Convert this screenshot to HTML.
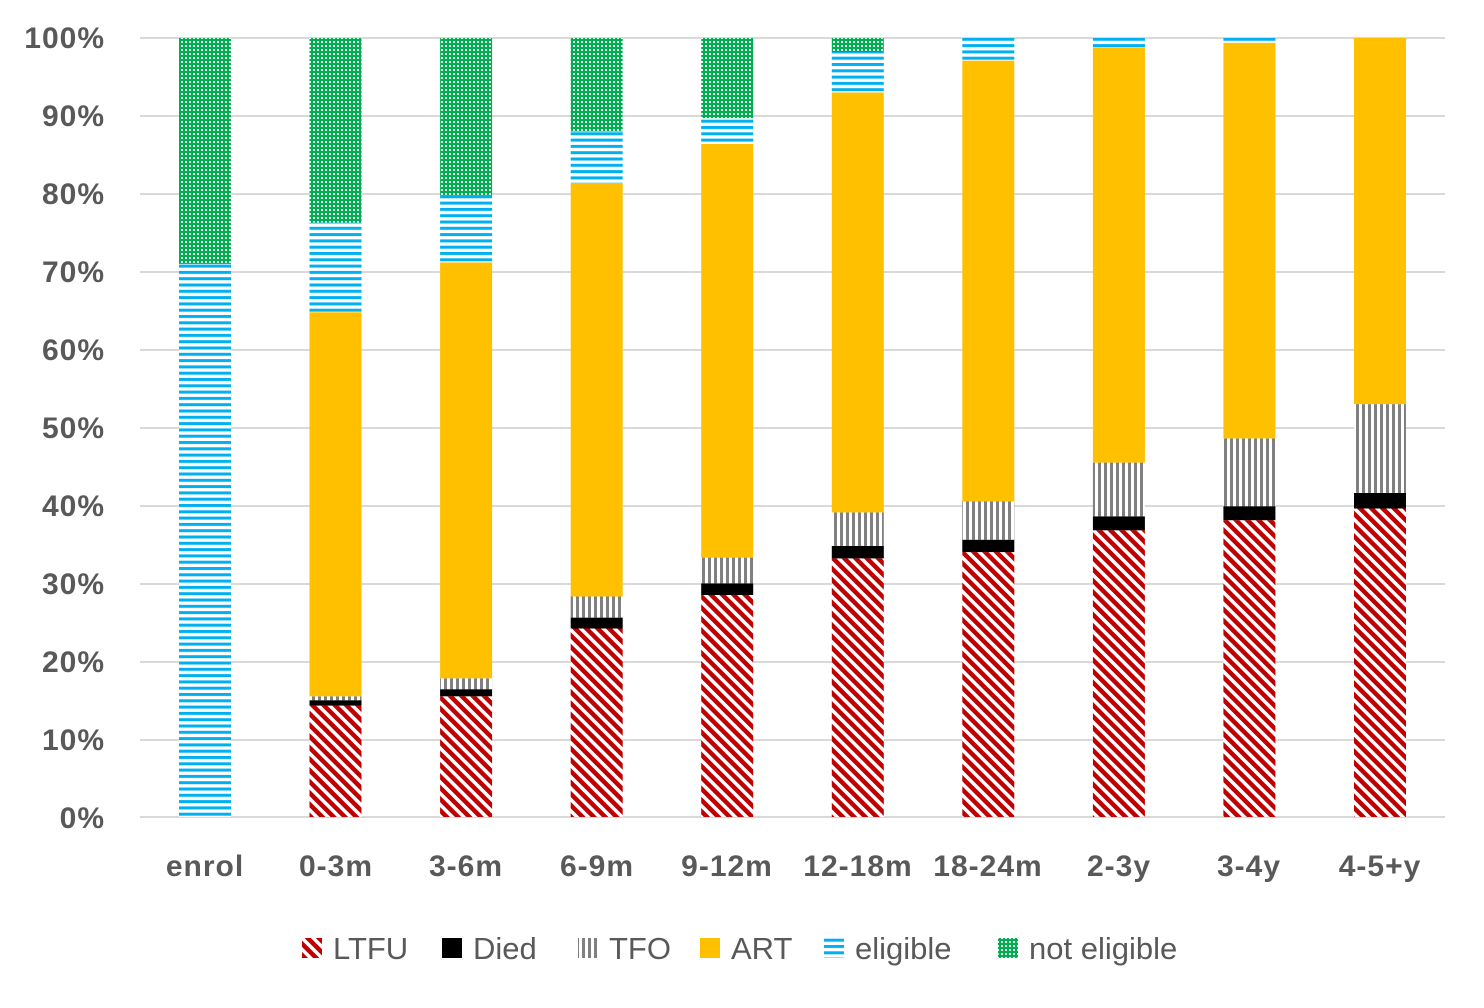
<!DOCTYPE html>
<html><head><meta charset="utf-8"><style>
body{margin:0;background:#fff;}
svg text{font-family:"Liberation Sans",sans-serif;}
</style></head><body>
<svg width="1484" height="1003" viewBox="0 0 1484 1003" xmlns="http://www.w3.org/2000/svg">
<defs>
<pattern id="ltfu" width="8" height="8" patternUnits="userSpaceOnUse" patternTransform="rotate(-45)">
<rect width="8" height="8" fill="#fff"/><rect width="4.5" height="8" fill="#c00000"/></pattern>
<pattern id="tfo" width="6" height="6" patternUnits="userSpaceOnUse">
<rect width="6" height="6" fill="#fff"/><rect x="0" width="3" height="6" fill="#808080"/></pattern>
<pattern id="elig" width="6" height="6.3" patternUnits="userSpaceOnUse">
<rect width="6" height="6.3" fill="#fff"/><rect y="0" width="6" height="3" fill="#00b0f0"/></pattern>
<pattern id="ne" width="8" height="8" patternUnits="userSpaceOnUse">
<rect width="8" height="8" fill="#00b050"/><rect x="1" y="1" width="2" height="2" fill="#fff"/><rect x="5" y="5" width="2" height="2" fill="#fff"/><rect x="5" y="1" width="2" height="2" fill="#cfeedd"/><rect x="1" y="5" width="2" height="2" fill="#cfeedd"/></pattern>
</defs>
<g stroke="#d9d9d9" stroke-width="2">
<line x1="140" x2="1445" y1="38" y2="38"/><line x1="140" x2="1445" y1="116" y2="116"/>
<line x1="140" x2="1445" y1="194" y2="194"/><line x1="140" x2="1445" y1="272" y2="272"/>
<line x1="140" x2="1445" y1="350" y2="350"/><line x1="140" x2="1445" y1="428" y2="428"/>
<line x1="140" x2="1445" y1="506" y2="506"/><line x1="140" x2="1445" y1="584" y2="584"/>
<line x1="140" x2="1445" y1="662" y2="662"/><line x1="140" x2="1445" y1="740" y2="740"/>
<line x1="140" x2="1445" y1="817" y2="817"/>
</g>
<g font-size="30" font-weight="bold" fill="#595959" text-anchor="end" letter-spacing="1">
<text x="105" y="48">100%</text><text x="105" y="126">90%</text><text x="105" y="204">80%</text>
<text x="105" y="282">70%</text><text x="105" y="360">60%</text><text x="105" y="438">50%</text>
<text x="105" y="516">40%</text><text x="105" y="594">30%</text><text x="105" y="672">20%</text>
<text x="105" y="750">10%</text><text x="105" y="828">0%</text>
</g>
<g>
<rect x="179" y="263.9" width="52" height="553.1" fill="url(#elig)"/>
<rect x="179" y="38" width="52" height="225.9" fill="url(#ne)"/>
<rect x="309.5" y="705.6" width="52" height="111.4" fill="url(#ltfu)"/>
<rect x="309.5" y="700.2" width="52" height="5.4" fill="#000"/>
<rect x="309.5" y="696.3" width="52" height="3.9" fill="url(#tfo)"/>
<rect x="309.5" y="312.2" width="52" height="384.1" fill="#ffc000"/>
<rect x="309.5" y="222.6" width="52" height="89.6" fill="url(#elig)"/>
<rect x="309.5" y="38" width="52" height="184.6" fill="url(#ne)"/>
<rect x="440.1" y="696.3" width="52" height="120.7" fill="url(#ltfu)"/>
<rect x="440.1" y="689.2" width="52" height="7.1" fill="#000"/>
<rect x="440.1" y="678.3" width="52" height="10.9" fill="url(#tfo)"/>
<rect x="440.1" y="262.4" width="52" height="415.9" fill="#ffc000"/>
<rect x="440.1" y="195.4" width="52" height="67" fill="url(#elig)"/>
<rect x="440.1" y="38" width="52" height="157.4" fill="url(#ne)"/>
<rect x="570.7" y="628.5" width="52" height="188.5" fill="url(#ltfu)"/>
<rect x="570.7" y="617.6" width="52" height="10.9" fill="#000"/>
<rect x="570.7" y="596.5" width="52" height="21.1" fill="url(#tfo)"/>
<rect x="570.7" y="182.9" width="52" height="413.6" fill="#ffc000"/>
<rect x="570.7" y="131.5" width="52" height="51.4" fill="url(#elig)"/>
<rect x="570.7" y="38" width="52" height="93.5" fill="url(#ne)"/>
<rect x="701.2" y="595" width="52" height="222" fill="url(#ltfu)"/>
<rect x="701.2" y="583.3" width="52" height="11.7" fill="#000"/>
<rect x="701.2" y="557.6" width="52" height="25.7" fill="url(#tfo)"/>
<rect x="701.2" y="144" width="52" height="413.6" fill="#ffc000"/>
<rect x="701.2" y="118.2" width="52" height="25.8" fill="url(#elig)"/>
<rect x="701.2" y="38" width="52" height="80.2" fill="url(#ne)"/>
<rect x="831.8" y="558.4" width="52" height="258.6" fill="url(#ltfu)"/>
<rect x="831.8" y="545.9" width="52" height="12.5" fill="#000"/>
<rect x="831.8" y="512.4" width="52" height="33.5" fill="url(#tfo)"/>
<rect x="831.8" y="92.5" width="52" height="419.9" fill="#ffc000"/>
<rect x="831.8" y="52" width="52" height="40.5" fill="url(#elig)"/>
<rect x="831.8" y="38" width="52" height="14" fill="url(#ne)"/>
<rect x="962.3" y="552.1" width="52" height="264.9" fill="url(#ltfu)"/>
<rect x="962.3" y="539.7" width="52" height="12.4" fill="#000"/>
<rect x="962.3" y="501.5" width="52" height="38.2" fill="url(#tfo)"/>
<rect x="962.3" y="60.6" width="52" height="440.9" fill="#ffc000"/>
<rect x="962.3" y="38" width="52" height="22.6" fill="url(#elig)"/>
<rect x="1092.9" y="530.3" width="52" height="286.7" fill="url(#ltfu)"/>
<rect x="1092.9" y="516.3" width="52" height="14" fill="#000"/>
<rect x="1092.9" y="462.6" width="52" height="53.7" fill="url(#tfo)"/>
<rect x="1092.9" y="47.3" width="52" height="415.3" fill="#ffc000"/>
<rect x="1092.9" y="38" width="52" height="9.3" fill="url(#elig)"/>
<rect x="1223.4" y="520.2" width="52" height="296.8" fill="url(#ltfu)"/>
<rect x="1223.4" y="506.2" width="52" height="14" fill="#000"/>
<rect x="1223.4" y="438.4" width="52" height="67.8" fill="url(#tfo)"/>
<rect x="1223.4" y="42.7" width="52" height="395.7" fill="#ffc000"/>
<rect x="1223.4" y="38" width="52" height="4.7" fill="url(#elig)"/>
<rect x="1354" y="508.5" width="52" height="308.5" fill="url(#ltfu)"/>
<rect x="1354" y="492.9" width="52" height="15.6" fill="#000"/>
<rect x="1354" y="404.1" width="52" height="88.8" fill="url(#tfo)"/>
<rect x="1354" y="38" width="52" height="366.1" fill="#ffc000"/>
</g>
<g font-size="30" font-weight="bold" fill="#595959" text-anchor="middle" letter-spacing="1">
<text x="205" y="876">enrol</text><text x="336" y="876">0-3m</text><text x="466" y="876">3-6m</text>
<text x="597" y="876">6-9m</text><text x="727" y="876">9-12m</text><text x="858" y="876">12-18m</text>
<text x="988" y="876">18-24m</text><text x="1119" y="876">2-3y</text><text x="1249" y="876">3-4y</text>
<text x="1380" y="876">4-5+y</text>
</g>
<g font-size="31" fill="#595959">
<rect x="302" y="938" width="20" height="20" fill="url(#ltfu)"/><text x="333" y="959">LTFU</text>
<rect x="442" y="938" width="20" height="20" fill="#000"/><text x="473" y="959">Died</text>
<rect x="578" y="938" width="20" height="20" fill="url(#tfo)"/><text x="609" y="959">TFO</text>
<rect x="700" y="938" width="20" height="20" fill="#ffc000"/><text x="731" y="959">ART</text>
<rect x="824" y="938" width="20" height="20" fill="url(#elig)"/><text x="855" y="959">eligible</text>
<rect x="998" y="938" width="20" height="20" fill="url(#ne)"/><text x="1029" y="959">not eligible</text>
</g>
</svg>
</body></html>
